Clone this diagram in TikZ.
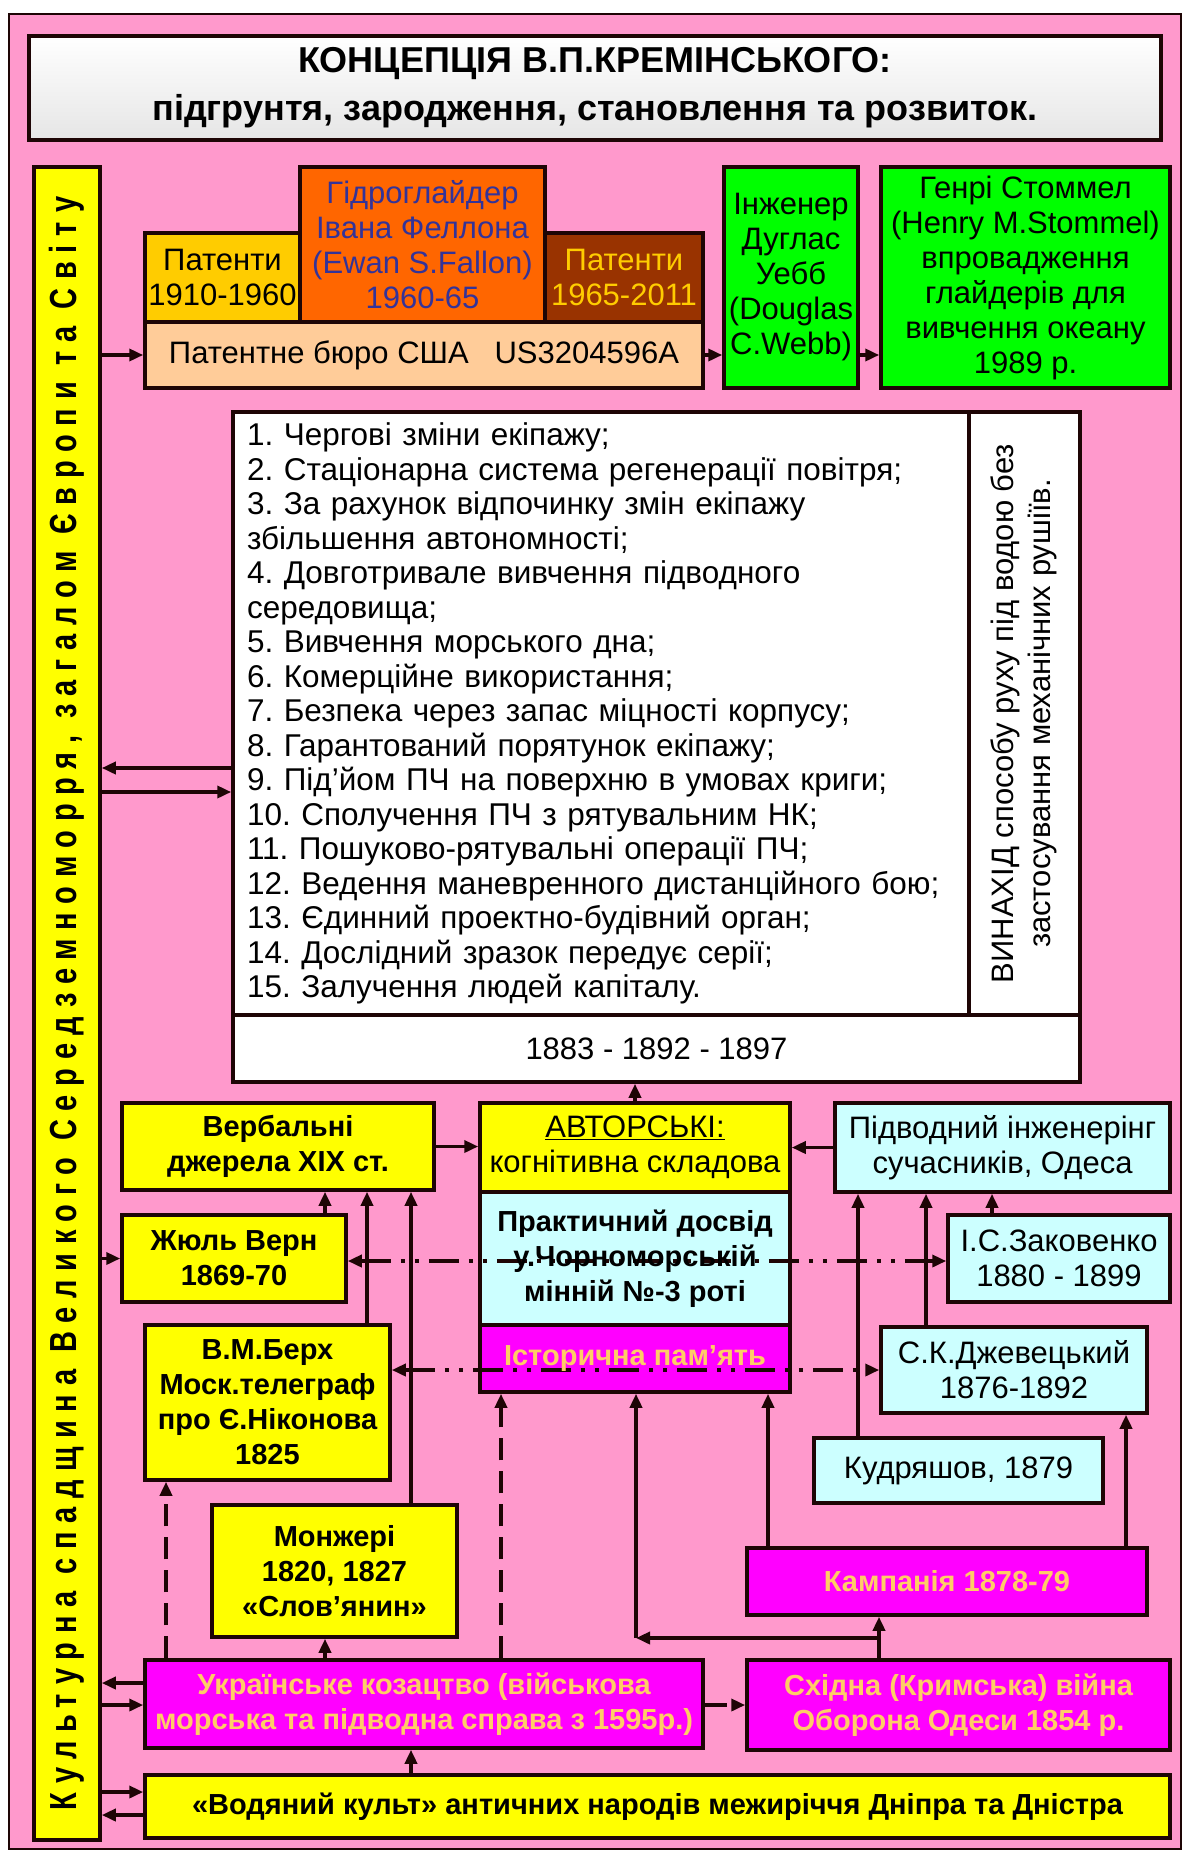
\documentclass[tikz,border=0pt]{standalone}
\usepackage{graphicx}
\usepackage{fontspec}
\setmainfont{Liberation Sans}
\newfontfamily\barfont{Liberation Sans}[LetterSpace=30]
\usepackage{tikz}
\usetikzlibrary{arrows.meta}
\definecolor{ink}{HTML}{1E0505}
\definecolor{pinkbg}{HTML}{FF99CC}
\definecolor{yel}{HTML}{FFFF00}
\definecolor{gold}{HTML}{FFCC00}
\definecolor{orng}{HTML}{FF6600}
\definecolor{brwn}{HTML}{993300}
\definecolor{peach}{HTML}{FFCC99}
\definecolor{grn}{HTML}{00FF00}
\definecolor{cyn}{HTML}{CCFFFF}
\definecolor{mag}{HTML}{FF00FF}
\definecolor{apricot}{HTML}{FFCC66}
\definecolor{navy}{HTML}{333399}
\frenchspacing
\newcommand\bxfont{\fontsize{31}{35}\selectfont}
\newcommand\bxbold{\fontsize{29}{35}\selectfont\bfseries}
\newcommand\ttlfont{\fontsize{36}{48}\selectfont\bfseries}
\newcommand\lstfont{\fontsize{31.5}{34.5}\selectfont}
\tikzset{
  box/.style={draw=ink, line width=3.5pt, inner sep=0pt, align=center, font=\bxfont},
  yelbox/.style={box, fill=yel, font=\bxbold},
  cynbox/.style={box, fill=cyn},
  magbox/.style={box, fill=mag, text=apricot, font=\bxbold},
  grnbox/.style={box, fill=grn},
  sz/.style 2 args={minimum width=#1pt, minimum height=#2pt},
  arr/.style={-{Triangle[length=14pt,width=12pt]}, line width=3.5pt, draw=ink},
  dasharr/.style={arr, dash pattern=on 22pt off 11pt},
  dotarr/.style={arr, dash pattern=on 30pt off 10pt on 4pt off 10pt on 4pt off 10pt},
}
\begin{document}
\begin{tikzpicture}[x=1pt, y=-1pt]
\useasboundingbox (0,0) rectangle (1190,1852);
\draw[line width=2pt, draw=ink, fill=pinkbg] (9,14) rectangle (1181,1849);

% title and side bar
\node[box, top color=white, bottom color=black!10, line width=4.5pt, sz={1132}{104}, font=\ttlfont] (title) at (595,88)
  {КОНЦЕПЦІЯ В.П.КРЕМІНСЬКОГО:\\підгрунтя, зародження, становлення та розвиток.};
\node[yelbox, sz={66}{1673}] (lbar) at (67,1003.5)
  {\rotatebox{90}{\scalebox{1}[1.3]{\barfont\bfseries\fontsize{29}{34}\selectfont Культурна спадщина Великого Середземноморря, загалом Європи та Світу}}};

% patents row
\node[box, fill=gold, sz={155}{89}] (pat1) at (222.5,277.5) {Патенти\\1910-1960};
\node[box, fill=orng, text=navy, sz={245}{155}] (glid) at (422.5,244.5) {Гідроглайдер\\Івана Феллона\\(Ewan S.Fallon)\\1960-65};
\node[box, fill=brwn, text=gold, sz={158}{89}] (pat2) at (624,277.5) {Патенти\\1965-2011};
\node[box, fill=peach, sz={558}{66}] (patb) at (424,355) {Патентне бюро США\ \ \ US3204596A};
\node[grnbox, sz={134}{221}] (webb) at (791,277.5) {Інженер\\Дуглас\\Уебб\\(Douglas\\C.Webb)};
\node[grnbox, sz={289}{221}] (stom) at (1025.5,277.5) {Генрі Стоммел\\(Henry M.Stommel)\\впровадження\\глайдерів для\\вивчення океану\\1989 р.};

% list of ideas
\node[box, fill=white, sz={736}{603}, align=left, text width=708pt, font=\lstfont] (list) at (601,713.5)
  {1. Чергові зміни екіпажу;\\
   2. Стаціонарна система регенерації повітря;\\
   3. За рахунок відпочинку змін екіпажу\\
   збільшення автономності;\\
   4. Довготривале вивчення підводного\\
   середовища;\\
   5. Вивчення морського дна;\\
   6. Комерційне використання;\\
   7. Безпека через запас міцності корпусу;\\
   8. Гарантований порятунок екіпажу;\\
   9. Під’йом ПЧ на поверхню в умовах криги;\\
   10. Сполучення ПЧ з рятувальним НК;\\
   11. Пошуково-рятувальні операції ПЧ;\\
   12. Ведення маневренного дистанційного бою;\\
   13. Єдинний проектно-будівний орган;\\
   14. Дослідний зразок передує серії;\\
   15. Залучення людей капіталу.};
\node[box, fill=white, sz={111}{603}, font=\fontsize{31}{37}\selectfont] (invent) at (1024.5,713.5)
  {\rotatebox{90}{\begin{tabular}{@{}c@{}}ВИНАХІД способу руху під водою без\\застосування механічних рушіїв.\end{tabular}}};
\node[box, fill=white, sz={847}{67}] (years) at (656.5,1048.5) {1883 - 1892 - 1897};

% author column
\node[yelbox, font=\bxfont, sz={310}{89}] (auth) at (635,1147.5) {\underline{АВТОРСЬКІ:}\\когнітивна складова};
\node[cynbox, sz={310}{133}] (prac) at (635,1258.5) {};
\node[magbox, sz={310}{67}] (hist) at (635,1358.5) {};

% left sources
\node[yelbox, sz={312}{87}] (verb) at (278,1146.5) {Вербальні\\джерела XIX ст.};
\node[yelbox, sz={224}{87}] (verne) at (234,1258.5) {Жюль Верн\\1869-70};
\node[yelbox, sz={245}{155}] (berkh) at (267.5,1402.5) {В.М.Берх\\Моск.телеграф\\про Є.Ніконова\\1825};
\node[yelbox, sz={245}{132}] (monzh) at (334.5,1571) {Монжері\\1820, 1827\\«Слов’янин»};

% right sources
\node[cynbox, sz={335}{89}] (engr) at (1002.5,1147.5) {Підводний інженерінг\\сучасників, Одеса};
\node[cynbox, sz={222}{87}] (zak) at (1059,1258.5) {І.С.Заковенко\\1880 - 1899};
\node[cynbox, sz={266}{86}] (dzh) at (1014,1370) {С.К.Джевецький\\1876-1892};
\node[cynbox, sz={289}{65}] (kudr) at (958.5,1470.5) {Кудряшов, 1879};
\node[magbox, sz={400}{67}] (camp) at (947,1581.5) {Кампанія 1878-79};

% bottom rows
\node[magbox, sz={558}{88}] (cossack) at (424,1704) {Українське козацтво (військова\\морська та підводна справа з 1595р.)};
\node[magbox, sz={423}{90}] (crimea) at (958.5,1705) {Східна (Кримська) війна\\Оборона Одеси 1854 р.};
\node[yelbox, sz={1025}{63}] (water) at (657.5,1806.5) {«Водяний культ» античних народів межиріччя Дніпра та Дністра};

% dash-dot links running through the author column
\draw[dotarr, {Triangle[length=14pt,width=12pt]}-{Triangle[length=14pt,width=12pt]}] (verne.east |- 0,1261) -- (zak.west |- 0,1261);
\draw[dotarr, {Triangle[length=14pt,width=12pt]}-{Triangle[length=14pt,width=12pt]}] (berkh.east |- 0,1370) -- (dzh.west |- 0,1370);
\node[font=\bxbold, align=center] (practxt) at (prac) {Практичний досвід\\у.Чорноморській\\мінній №-3 роті};
\node[font=\bxbold, text=apricot] (histxt) at (hist) {Історична пам’ять};

% connectors
\draw[arr] (lbar.east |- patb.west) -- (patb.west);
\draw[arr] (patb.east) -- (patb.east -| webb.west);
\draw[arr] (webb.east |- patb.east) -- (stom.west |- patb.east);
\draw[arr] (list.west |- 0,768) -- (lbar.east |- 0,768);
\draw[arr] (lbar.east |- 0,792) -- (list.west |- 0,792);
\draw[arr] (auth.north) -- (auth.north |- years.south);
\draw[arr] (verb.east) -- (verb.east -| auth.west);
\draw[arr] (engr.west) -- (engr.west -| auth.east);
\draw[arr] (lbar.east |- verne.west) -- (verne.west);
\draw[arr] (verne.north -| 325,0) -- (verb.south -| 325,0);
\draw[arr] (berkh.north -| 367,0) -- (verb.south -| 367,0);
\draw[arr] (monzh.north -| 411,0) -- (verb.south -| 411,0);
\draw[arr] (kudr.north -| 858,0) -- (engr.south -| 858,0);
\draw[arr] (dzh.north -| 926,0) -- (engr.south -| 926,0);
\draw[arr] (zak.north -| 992,0) -- (engr.south -| 992,0);
\draw[arr] (camp.north -| 768,0) -- (hist.south -| 768,0);
\draw[arr] (camp.north -| 1126,0) -- (dzh.south -| 1126,0);
\draw[arr] (crimea.north -| 879,0) -- (camp.south -| 879,0);
\coordinate (fork) at (879,1638);
\draw[arr] (fork) -- (fork -| 636,0);
\draw[arr] (fork -| 636,0) -- (hist.south -| 636,0);
\draw[arr] (cossack.west |- 0,1683) -- (lbar.east |- 0,1683);
\draw[arr] (lbar.east |- 0,1705) -- (cossack.west |- 0,1705);
\draw[dasharr] (cossack.east |- 0,1705) -- (crimea.west |- 0,1705);
\draw[dasharr] (cossack.north -| 166,0) -- (berkh.south -| 166,0);
\draw[arr] (cossack.north -| 325,0) -- (monzh.south -| 325,0);
\draw[dasharr] (cossack.north -| 501,0) -- (hist.south -| 501,0);
\draw[arr] (water.north -| 411,0) -- (cossack.south -| 411,0);
\draw[arr] (lbar.east |- 0,1792) -- (water.west |- 0,1792);
\draw[arr] (water.west |- 0,1815) -- (lbar.east |- 0,1815);
\end{tikzpicture}
\end{document}
